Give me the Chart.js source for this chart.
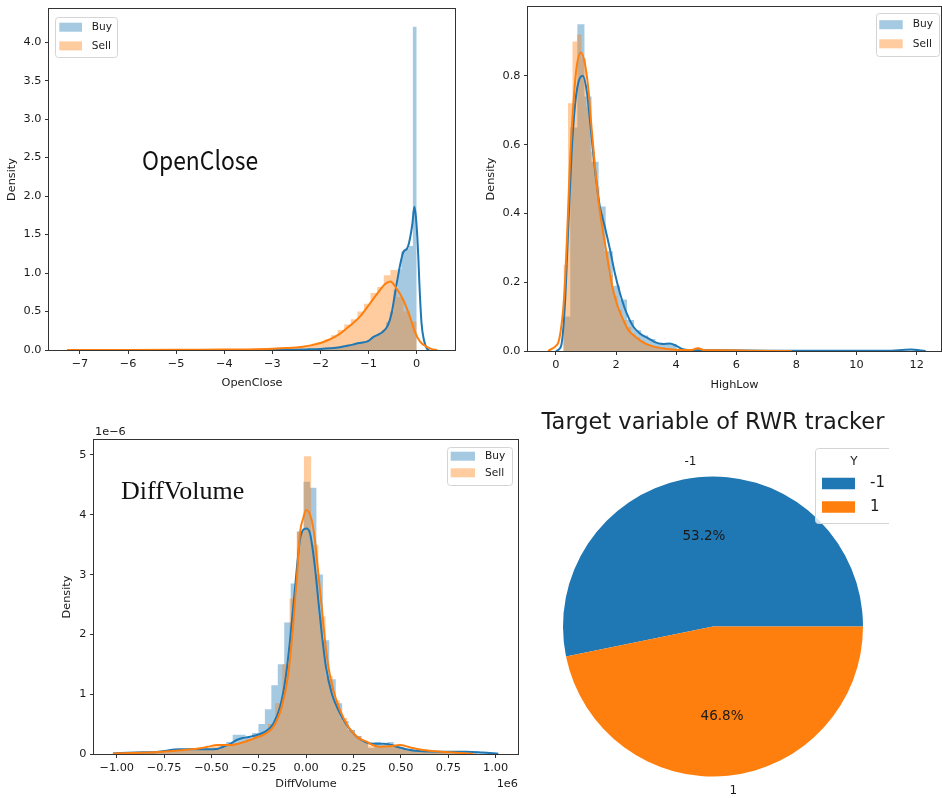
<!DOCTYPE html>
<html lang="en">
<head>
<meta charset="utf-8">
<title>Buy / Sell distributions and RWR target</title>
<script src="https://cdn.jsdelivr.net/npm/chart.js@4.4.1/dist/chart.umd.min.js"></script>
<style>
    html, body { margin: 0; padding: 0; background: #ffffff; }
    body { position: relative; width: 942px; height: 798px; overflow: hidden; }
    .panel { position: absolute; }
    .note { position: absolute; white-space: nowrap; color: #111; line-height: 1; transform-origin: 0 0; }
</style>
</head>
<body>
<div class="panel" style="left:0;top:0;width:462px;height:398px"><canvas id="openCloseChart"></canvas></div>
<div class="panel" style="left:470px;top:0;width:472px;height:398px"><canvas id="highLowChart"></canvas></div>
<div class="panel" style="left:0;top:400px;width:525px;height:398px"><canvas id="diffVolumeChart"></canvas></div>
<div class="panel" style="left:520px;top:400px;width:369px;height:398px"><canvas id="targetChart"></canvas></div>
<div class="note" style="left:142px;top:146px;font-size:26px;font-family:'Noto Sans CJK SC',sans-serif;transform:scaleX(0.88)">OpenClose</div>
<div class="note" style="left:121px;top:478px;font-size:26px;font-family:'Liberation Serif',serif">DiffVolume</div>

<script>
// ========================================
// DATA
// ========================================

const seriesNames = ['Buy', 'Sell'];

// --- OpenClose ---
const openCloseTicksX = [-7, -6, -5, -4, -3, -2, -1, 0];
const openCloseTicksY = [0, 0.5, 1.0, 1.5, 2.0, 2.5, 3.0, 3.5, 4.0];
const openCloseBuyBinStart = -4.0;
const openCloseBuyBinWidth = 0.08;
const openCloseBuyHist = [
    0.003, 0, 0, 0.001, 0, 0.001, 0.001, 0, 0.001, 0.001,
    0.002, 0.002, 0.002, 0.002, 0.003, 0.003, 0.004, 0.004, 0.005, 0.005,
    0.006, 0.008, 0.009, 0.01, 0.012, 0.015, 0.02, 0.025, 0.03, 0.035,
    0.04, 0.05, 0.07, 0.07, 0.09, 0.09, 0.1, 0.13, 0.16, 0.19,
    0.22, 0.26, 0.36, 0.5, 0.78, 1.05, 1.28, 1.32, 1.35, 4.2
];
const openCloseSellBinStart = -6.85;
const openCloseSellBinWidth = 0.137;
const openCloseSellHist = [
    0.002, 0.001, 0.001, 0.001, 0.001, 0.001, 0.001, 0.002, 0.001, 0.002,
    0.002, 0.002, 0.002, 0.002, 0.003, 0.003, 0.003, 0.003, 0.003, 0.004,
    0.004, 0.005, 0.006, 0.007, 0.008, 0.01, 0.012, 0.015, 0.02, 0.025,
    0.03, 0.035, 0.05, 0.06, 0.08, 0.1, 0.14, 0.19, 0.26, 0.33,
    0.4, 0.5, 0.6, 0.74, 0.82, 0.97, 1.04, 0.69, 0.5, 0.37
];
const openCloseBuyKdeX = [-4.2, -3.5, -3.0, -2.6, -2.3, -2.0, -1.8, -1.6, -1.4, -1.3,
    -1.2, -1.1, -1.0, -0.9, -0.8, -0.7, -0.6, -0.52, -0.45, -0.4,
    -0.34, -0.28, -0.2, -0.16, -0.09, -0.05, -0.02, 0.013, 0.034, 0.055,
    0.1, 0.15, 0.21, 0.26];
const openCloseBuyKdeY = [0.0, 0.001, 0.002, 0.004, 0.008, 0.014, 0.022, 0.035, 0.06, 0.075,
    0.09, 0.1, 0.12, 0.17, 0.2, 0.24, 0.32, 0.48, 0.74, 0.92,
    1.12, 1.27, 1.32, 1.39, 1.64, 1.86, 1.75, 1.47, 1.2, 0.87,
    0.35, 0.13, 0.02, 0.0];
const openCloseSellKdeX = [-7.27, -6.5, -6.0, -5.0, -4.5, -4.0, -3.5, -3.0, -2.7, -2.4,
    -2.2, -2.0, -1.8, -1.6, -1.4, -1.2, -1.0, -0.8, -0.65, -0.55,
    -0.42, -0.28, -0.14, -0.04, 0.07, 0.21, 0.3, 0.43];
const openCloseSellKdeY = [0.0, 0.001, 0.001, 0.002, 0.003, 0.005, 0.008, 0.016, 0.025, 0.04,
    0.06, 0.09, 0.14, 0.21, 0.31, 0.42, 0.58, 0.75, 0.86, 0.89,
    0.80, 0.65, 0.43, 0.24, 0.11, 0.04, 0.015, 0.0];

// --- HighLow ---
const highLowTicksX = [0, 2, 4, 6, 8, 10, 12];
const highLowTicksY = [0, 0.2, 0.4, 0.6, 0.8];
const highLowBuyBinStart = 0.24;
const highLowBuyBinWidth = 0.236;
const highLowBuyHist = [
    0.10, 0.65, 0.95, 0.74, 0.55, 0.42, 0.29, 0.19, 0.15, 0.09,
    0.06, 0.045, 0.035, 0.025, 0.02, 0.02, 0.006, 0.003, 0.002, 0.002,
    0.001, 0.001, 0.001, 0.001, 0.001, 0.001, 0, 0.001, 0.001, 0,
    0.001, 0, 0.001, 0, 0, 0.001, 0, 0, 0.001, 0,
    0, 0.001, 0, 0, 0, 0, 0.001, 0.002, 0.001, 0.001
];
const highLowSellBinStart = 0.25;
const highLowSellBinWidth = 0.15;
const highLowSellHist = [
    0.25, 0.72, 0.90, 0.92, 0.85, 0.71, 0.58, 0.48, 0.40, 0.29,
    0.22, 0.16, 0.12, 0.09, 0.07, 0.05, 0.04, 0.03, 0.02, 0.015,
    0.012, 0.008, 0.006, 0.004, 0.004, 0.003, 0.002, 0.002, 0.006, 0.01,
    0.004, 0.002, 0.002, 0.001, 0.001, 0.002, 0.001, 0.001, 0.001, 0.001,
    0.001, 0.001, 0, 0.001, 0.001, 0, 0.001, 0.001, 0.001, 0.001
];
const highLowBuyKdeX = [0.0, 0.1, 0.19, 0.3, 0.41, 0.52, 0.63, 0.74, 0.89, 1.02,
    1.13, 1.24, 1.35, 1.46, 1.63, 1.80, 1.96, 2.13, 2.35, 2.57,
    2.79, 3.07, 3.29, 3.55, 3.79, 4.0, 4.23, 4.6, 5.5, 7.0,
    9.0, 11.0, 11.8, 12.3];
const highLowBuyKdeY = [0.0, 0.005, 0.022, 0.139, 0.36, 0.575, 0.71, 0.779, 0.80, 0.759,
    0.672, 0.575, 0.488, 0.42, 0.36, 0.294, 0.226, 0.168, 0.11, 0.071,
    0.051, 0.037, 0.026, 0.02, 0.022, 0.015, 0.005, 0.002, 0.002, 0.001,
    0.001, 0.001, 0.004, 0.0];
const highLowSellKdeX = [-0.26, 0.0, 0.08, 0.16, 0.24, 0.3, 0.36, 0.47, 0.58, 0.69,
    0.83, 0.96, 1.08, 1.19, 1.30, 1.41, 1.52, 1.63, 1.74, 1.85,
    2.02, 2.19, 2.41, 2.63, 2.96, 3.29, 3.7, 4.2, 4.5, 4.73,
    4.95, 5.5, 6.5, 7.84];
const highLowSellKdeY = [0.0, 0.015, 0.025, 0.06, 0.12, 0.2, 0.313, 0.556, 0.72, 0.827,
    0.868, 0.837, 0.76, 0.643, 0.536, 0.44, 0.371, 0.313, 0.255, 0.197,
    0.139, 0.10, 0.061, 0.042, 0.022, 0.012, 0.006, 0.003, 0.003, 0.008,
    0.002, 0.002, 0.001, 0.0];

// --- DiffVolume (x in units of 1e6, density in units of 1e-6) ---
const diffVolumeTicksX = [-1.0, -0.75, -0.5, -0.25, 0, 0.25, 0.5, 0.75, 1.0];
const diffVolumeTicksY = [0, 1, 2, 3, 4, 5];
const diffVolumeBuyBinStart = -1.0;
const diffVolumeBuyBinWidth = 0.034;
const diffVolumeBuyHist = [
    0.005, 0.01, 0.01, 0.015, 0.02, 0.02, 0.03, 0.03, 0.04, 0.05,
    0.08, 0.09, 0.08, 0.07, 0.08, 0.1, 0.12, 0.2, 0.32, 0.32,
    0.28, 0.35, 0.5, 0.75, 1.15, 1.5, 2.2, 2.85, 3.72, 4.55,
    4.45, 3.0, 1.9, 1.25, 0.85, 0.55, 0.4, 0.3, 0.2, 0.1,
    0.2, 0.15, 0.2, 0.12, 0.08, 0.06, 0.05, 0.04, 0.03, 0.03,
    0.02, 0.02, 0.02, 0.03, 0.03, 0.02, 0.01, 0.005
];
const diffVolumeSellBinStart = -1.0;
const diffVolumeSellBinWidth = 0.038;
const diffVolumeSellHist = [
    0.005, 0.008, 0.01, 0.012, 0.015, 0.02, 0.025, 0.03, 0.04, 0.05,
    0.06, 0.08, 0.1, 0.13, 0.15, 0.15, 0.17, 0.2, 0.25, 0.3,
    0.35, 0.5, 0.85, 1.5, 2.6, 3.72, 4.98, 3.5, 2.3, 1.3,
    0.9, 0.6, 0.4, 0.3, 0.2, 0.13, 0.12, 0.13, 0.15, 0.12,
    0.08, 0.06, 0.05, 0.03, 0.02, 0.015, 0.01, 0.008, 0.005, 0.003,
    0.002
];
const diffVolumeBuyKdeX = [-1.02, -0.9, -0.79, -0.666, -0.525, -0.47, -0.437, -0.40, -0.367, -0.33,
    -0.297, -0.26, -0.216, -0.173, -0.138, -0.11, -0.085, -0.06, -0.033, -0.015,
    0.0, 0.02, 0.046, 0.064, 0.082, 0.104, 0.135, 0.17, 0.214, 0.267,
    0.319, 0.36, 0.407, 0.45, 0.478, 0.548, 0.62, 0.706, 0.847, 0.93,
    1.014];
const diffVolumeBuyKdeY = [0.01, 0.025, 0.035, 0.078, 0.078, 0.085, 0.122, 0.17, 0.234, 0.27,
    0.29, 0.318, 0.373, 0.51, 0.79, 1.24, 1.91, 2.74, 3.58, 3.75,
    3.77, 3.69, 3.13, 2.57, 2.02, 1.46, 1.01, 0.736, 0.485, 0.29,
    0.19, 0.17, 0.17, 0.15, 0.122, 0.067, 0.045, 0.039, 0.039, 0.025,
    0.005];
const diffVolumeSellKdeX = [-1.02, -0.877, -0.70, -0.56, -0.52, -0.47, -0.40, -0.33, -0.297, -0.26,
    -0.226, -0.173, -0.129, -0.094, -0.068, -0.05, -0.033, -0.015, 0.0, 0.029,
    0.046, 0.064, 0.082, 0.099, 0.117, 0.143, 0.178, 0.222, 0.275, 0.319,
    0.35, 0.389, 0.44, 0.495, 0.55, 0.618, 0.7, 0.794, 0.88];
const diffVolumeSellKdeY = [0.01, 0.02, 0.05, 0.095, 0.12, 0.15, 0.15, 0.2, 0.234, 0.28,
    0.32, 0.457, 0.79, 1.35, 2.19, 2.91, 3.69, 3.95, 4.08, 3.91,
    3.58, 3.02, 2.46, 1.91, 1.46, 1.07, 0.736, 0.457, 0.27, 0.206,
    0.15, 0.122, 0.13, 0.15, 0.11, 0.067, 0.04, 0.02, 0.005];

// --- Target variable (pie) ---
const targetLabels = ['-1', '1'];
const targetShares = [53.2, 46.8];

// ========================================
// STYLE
// ========================================

const FONT = 'DejaVu Sans';
const INK = '#1a1a1a';
const SPINE = '#333333';
const BLUE = '#1f77b4';
const ORANGE = '#ff7f0e';
const BLUE_FILL = 'rgba(31, 119, 180, 0.4)';
const ORANGE_FILL = 'rgba(255, 127, 14, 0.4)';

Chart.defaults.font.family = FONT;

// matplotlib prints negative ticks with a real minus sign
function mplNumber(v, decimals) {
    const s = Math.abs(v).toFixed(decimals);
    return (v < 0 && Number(s) !== 0 ? '\u2212' : '') + s;
}

// ========================================
// PLUGINS
// ========================================

// box around the plot area (matplotlib spines)
const axesFrame = {
    id: 'axesFrame',
    afterDatasetsDraw(chart) {
        const { ctx, chartArea: { left, top, right, bottom } } = chart;
        ctx.save();
        ctx.strokeStyle = SPINE;
        ctx.lineWidth = 1;
        ctx.strokeRect(Math.round(left) - 0.5, Math.round(top) - 0.5,
            Math.round(right - left) + 1, Math.round(bottom - top) + 1);
        ctx.restore();
    }
};

// matplotlib style legend box with colour patches
const boxLegend = {
    id: 'boxLegend',
    afterDraw(chart, args, o) {
        const { ctx, chartArea } = chart;
        const x0 = o.anchor === 'right' ? chartArea.right - o.dx - o.width : chartArea.left + o.dx;
        const y0 = chartArea.top + o.dy;
        ctx.save();
        ctx.beginPath();
        ctx.roundRect(Math.round(x0) + 0.5, Math.round(y0) + 0.5, o.width, o.height, 3);
        ctx.fillStyle = 'rgba(255, 255, 255, 0.8)';
        ctx.fill();
        ctx.strokeStyle = '#d4d4d4';
        ctx.lineWidth = 1;
        ctx.stroke();
        ctx.textBaseline = 'middle';
        if (o.title) {
            ctx.fillStyle = INK;
            ctx.font = `${o.titleSize}px ${FONT}`;
            ctx.textAlign = 'center';
            ctx.fillText(o.title, x0 + o.titleX, y0 + o.titleY);
        }
        o.labels.forEach((label, i) => {
            const cy = y0 + o.rowY[i];
            ctx.fillStyle = o.colors[i];
            ctx.fillRect(x0 + o.patchX, cy - o.patchH / 2, o.patchW, o.patchH);
            ctx.fillStyle = INK;
            ctx.font = `${o.fontSize}px ${FONT}`;
            ctx.textAlign = 'left';
            ctx.fillText(label, x0 + o.textX, cy);
        });
        ctx.restore();
    }
};

// scale multipliers (1e-6 / 1e6) like matplotlib offset text
const offsetText = {
    id: 'offsetText',
    afterDraw(chart, args, o) {
        const { ctx, chartArea } = chart;
        ctx.save();
        ctx.fillStyle = INK;
        ctx.font = `${o.fontSize}px ${FONT}`;
        ctx.textBaseline = 'middle';
        ctx.textAlign = 'left';
        ctx.fillText(o.yText, chartArea.left + 1, chartArea.top - o.yGap);
        ctx.textAlign = 'right';
        ctx.fillText(o.xText, chartArea.right, chartArea.bottom + o.xGap);
        ctx.restore();
    }
};

// slice labels outside, percentages inside
const pieLabels = {
    id: 'pieLabels',
    afterDatasetsDraw(chart, args, o) {
        const { ctx } = chart;
        const meta = chart.getDatasetMeta(0);
        const values = chart.data.datasets[0].data;
        const total = values.reduce((a, b) => a + b, 0);
        ctx.save();
        ctx.fillStyle = INK;
        ctx.textBaseline = 'middle';
        meta.data.forEach((arc, i) => {
            const { x, y, startAngle, endAngle, outerRadius } =
                arc.getProps(['x', 'y', 'startAngle', 'endAngle', 'outerRadius'], true);
            const mid = (startAngle + endAngle) / 2;
            const cx = Math.cos(mid);
            const cy = Math.sin(mid);
            ctx.font = `${o.labelSize}px ${FONT}`;
            ctx.textAlign = cx < 0 ? 'right' : 'left';
            ctx.fillText(chart.data.labels[i],
                x + cx * outerRadius * o.labelDistance, y + cy * outerRadius * o.labelDistance);
            ctx.font = `${o.pctSize}px ${FONT}`;
            ctx.textAlign = 'center';
            ctx.fillText((values[i] / total * 100).toFixed(1) + '%',
                x + cx * outerRadius * o.pctDistance, y + cy * outerRadius * o.pctDistance);
        });
        ctx.restore();
    }
};

// ========================================
// BUILDERS
// ========================================

// histogram as a filled step line: one point per left bin edge, plus the last right edge
function histDataset(label, start, width, heights, fill) {
    const pts = heights.map((h, i) => ({ x: start + i * width, y: h }));
    pts.push({ x: start + heights.length * width, y: 0 });
    return {
        label: label,
        data: pts,
        stepped: 'before',
        fill: 'origin',
        backgroundColor: fill,
        borderColor: 'rgba(0, 0, 0, 0)',
        borderWidth: 0,
        pointRadius: 0
    };
}

function kdeDataset(label, xs, ys, color) {
    return {
        label: label + ' kde',
        data: xs.map((x, i) => ({ x: x, y: ys[i] })),
        borderColor: color,
        borderWidth: 2,
        fill: false,
        pointRadius: 0,
        cubicInterpolationMode: 'monotone'
    };
}

function linearAxis(a) {
    return {
        type: 'linear',
        min: a.min,
        max: a.max,
        afterBuildTicks: (scale) => { scale.ticks = a.ticks.map(v => ({ value: v })); },
        afterFit: (scale) => {
            if (a.width !== undefined) scale.width = a.width;
            if (a.height !== undefined) scale.height = a.height;
            scale.paddingTop = 0;
            scale.paddingBottom = 0;
            scale.paddingLeft = 0;
            scale.paddingRight = 0;
        },
        grid: { drawOnChartArea: false, drawTicks: true, tickLength: 4, tickWidth: 1, tickColor: SPINE, color: SPINE },
        border: { display: false },
        ticks: {
            autoSkip: false,
            maxRotation: 0,
            minRotation: 0,
            padding: 3.5,
            color: INK,
            font: { family: FONT, size: 11.3 },
            callback: (value) => mplNumber(value, a.decimals)
        },
        title: {
            display: true,
            text: a.title,
            color: INK,
            font: { family: FONT, size: 11.3 },
            padding: a.titlePadding
        }
    };
}

function buildDistChart(canvasId, p) {
    const ctx = document.getElementById(canvasId).getContext('2d');
    // Chart.js paints dataset 0 last. matplotlib paints every hist (zorder 1)
    // before every kde line (zorder 2), Buy before Sell, so list them in reverse.
    const datasets = [
        kdeDataset(seriesNames[1], p.sellKdeX, p.sellKdeY, ORANGE),
        kdeDataset(seriesNames[0], p.buyKdeX, p.buyKdeY, BLUE),
        histDataset(seriesNames[1], p.sellStart, p.sellWidth, p.sellHist, ORANGE_FILL),
        histDataset(seriesNames[0], p.buyStart, p.buyWidth, p.buyHist, BLUE_FILL)
    ];
    const plugins = [axesFrame, boxLegend];
    if (p.offsetText) plugins.push(offsetText);
    return new Chart(ctx, {
        type: 'line',
        data: { datasets: datasets },
        options: {
            responsive: true,
            maintainAspectRatio: false,
            animation: false,
            events: [],
            devicePixelRatio: 1,
            layout: { padding: p.padding },
            scales: { x: linearAxis(p.x), y: linearAxis(p.y) },
            plugins: {
                legend: { display: false },
                tooltip: { enabled: false },
                boxLegend: Object.assign({ labels: seriesNames, colors: [BLUE_FILL, ORANGE_FILL] }, p.legend),
                offsetText: p.offsetText || {}
            }
        },
        plugins: plugins
    });
}

// ========================================
// CHARTS
// ========================================

function initCharts() {
    buildDistChart('openCloseChart', {
        buyStart: openCloseBuyBinStart, buyWidth: openCloseBuyBinWidth, buyHist: openCloseBuyHist,
        sellStart: openCloseSellBinStart, sellWidth: openCloseSellBinWidth, sellHist: openCloseSellHist,
        buyKdeX: openCloseBuyKdeX, buyKdeY: openCloseBuyKdeY,
        sellKdeX: openCloseSellKdeX, sellKdeY: openCloseSellKdeY,
        padding: { left: 0, top: 9, right: 7, bottom: 0 },
        x: { min: -7.644, max: 0.796, ticks: openCloseTicksX, decimals: 0, title: 'OpenClose',
             height: 48, titlePadding: { top: 0, bottom: 8.2 } },
        y: { min: 0, max: 4.43, ticks: openCloseTicksY, decimals: 1, title: 'Density',
             width: 49, titlePadding: { top: 5.2, bottom: 0 } },
        legend: { anchor: 'left', dx: 6, dy: 8, width: 62, height: 40, patchX: 4.3, patchW: 22.7,
                  patchH: 9, textX: 36.7, rowY: [10.2, 28.9], fontSize: 10.6 }
    });

    buildDistChart('highLowChart', {
        buyStart: highLowBuyBinStart, buyWidth: highLowBuyBinWidth, buyHist: highLowBuyHist,
        sellStart: highLowSellBinStart, sellWidth: highLowSellBinWidth, sellHist: highLowSellHist,
        buyKdeX: highLowBuyKdeX, buyKdeY: highLowBuyKdeY,
        sellKdeX: highLowSellKdeX, sellKdeY: highLowSellKdeY,
        padding: { left: 0, top: 7, right: 1, bottom: 0 },
        x: { min: -0.93, max: 12.81, ticks: highLowTicksX, decimals: 0, title: 'HighLow',
             height: 47, titlePadding: { top: 0, bottom: 6.2 } },
        y: { min: 0, max: 1.0, ticks: highLowTicksY, decimals: 1, title: 'Density',
             width: 58, titlePadding: { top: 14.2, bottom: 0 } },
        legend: { anchor: 'right', dx: 2, dy: 6, width: 63, height: 43, patchX: 3.3, patchW: 23.4,
                  patchH: 9, textX: 36.7, rowY: [11.7, 30.8], fontSize: 10.6 }
    });

    buildDistChart('diffVolumeChart', {
        buyStart: diffVolumeBuyBinStart, buyWidth: diffVolumeBuyBinWidth, buyHist: diffVolumeBuyHist,
        sellStart: diffVolumeSellBinStart, sellWidth: diffVolumeSellBinWidth, sellHist: diffVolumeSellHist,
        buyKdeX: diffVolumeBuyKdeX, buyKdeY: diffVolumeBuyKdeY,
        sellKdeX: diffVolumeSellKdeX, sellKdeY: diffVolumeSellKdeY,
        padding: { left: 54, top: 40, right: 7, bottom: 0 },
        x: { min: -1.12, max: 1.118, ticks: diffVolumeTicksX, decimals: 2, title: 'DiffVolume',
             height: 44, titlePadding: { top: 0, bottom: 7.2 } },
        y: { min: 0, max: 5.25, ticks: diffVolumeTicksY, decimals: 0, title: 'Density',
             width: 40, titlePadding: { top: 6.2, bottom: 0 } },
        legend: { anchor: 'right', dx: 6, dy: 7, width: 65, height: 38, patchX: 3.7, patchW: 24.3,
                  patchH: 9, textX: 38, rowY: [9.2, 25.8], fontSize: 10.6 },
        offsetText: { yText: '1e\u22126', xText: '1e6', fontSize: 11.3, yGap: 8, xGap: 30 }
    });

    const pieCtx = document.getElementById('targetChart').getContext('2d');
    const total = targetShares.reduce((a, b) => a + b, 0);
    new Chart(pieCtx, {
        type: 'pie',
        data: {
            labels: targetLabels,
            datasets: [{
                data: targetShares,
                backgroundColor: [BLUE, ORANGE],
                borderWidth: 0,
                hoverOffset: 0,
                offset: 0
            }]
        },
        options: {
            responsive: true,
            maintainAspectRatio: false,
            animation: false,
            events: [],
            devicePixelRatio: 1,
            // matplotlib starts the first wedge at 3 o'clock and turns counter-clockwise
            rotation: 90 - 360 * targetShares[0] / total,
            layout: { padding: { left: 17, right: 0, top: 0, bottom: 21.5 } },
            plugins: {
                legend: { display: false },
                tooltip: { enabled: false },
                title: {
                    display: true,
                    text: 'Target variable of RWR tracker',
                    color: INK,
                    font: { family: FONT, size: 22.5, weight: 'normal' },
                    padding: { top: 10, bottom: 39.5 }
                },
                pieLabels: { labelSize: 12, pctSize: 13.5, labelDistance: 1.1, pctDistance: 0.6 },
                boxLegend: {
                    anchor: 'left', dx: 278, dy: -28.5, width: 78, height: 75,
                    title: 'Y', titleSize: 12, titleX: 39, titleY: 14,
                    labels: targetLabels, colors: [BLUE, ORANGE],
                    patchX: 7, patchW: 33, patchH: 11.5, textX: 55, rowY: [35.5, 59], fontSize: 15
                }
            }
        },
        plugins: [pieLabels, boxLegend]
    });
}

document.addEventListener('DOMContentLoaded', () => {
    if (typeof Chart !== 'undefined') {
        initCharts();
    }
});
</script>
</body>
</html>
